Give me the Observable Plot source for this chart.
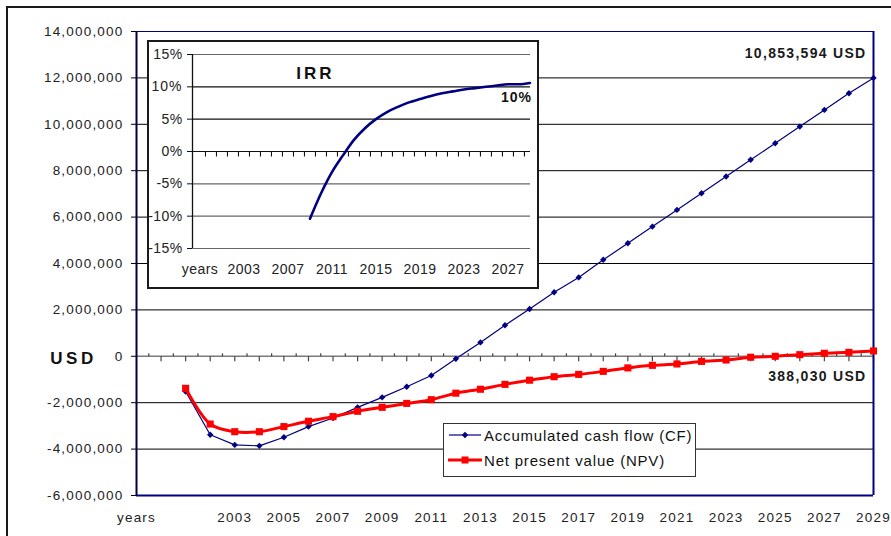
<!DOCTYPE html>
<html>
<head>
<meta charset="utf-8">
<script src="https://cdn.jsdelivr.net/npm/d3@7"></script>
<script src="https://cdn.jsdelivr.net/npm/@observablehq/plot@0.6"></script>
<style>
  html, body { margin: 0; padding: 0; overflow: hidden; background: #fff; }
  #chart { position: relative; width: 891px; height: 536px; overflow: hidden;
           font-family: "Liberation Sans", Arial, sans-serif; color: #222; }
  #border { position: absolute; left: 6px; top: 6px; width: 900px; height: 545px;
            border: 2px solid #1a1a1a; box-sizing: border-box; }
  #main { position: absolute; left: 0; top: 0; }
  #inset { position: absolute; left: 147px; top: 40px; width: 392px; height: 249px;
           border: 2px solid #1a1a1a; box-sizing: border-box; background: #fff; }
  #inset svg { position: absolute; left: 0; top: 0; }
  #legend { position: absolute; left: 443px; top: 423px; width: 253px; height: 54px;
            border: 1.5px solid #333; box-sizing: border-box; background: #fff; }
  #legend .row { position: absolute; left: 4px; height: 16px; display: flex; align-items: center; }
  #legend .row span { font-size: 15px; letter-spacing: 0.8px; margin-left: 2px; color: #111; white-space: nowrap; }
</style>
</head>
<body>
<div id="chart">
  <div id="border"></div>
  <div id="main"></div>
  <div id="inset"></div>
  <div id="legend"></div>
</div>
<script>
// ---------- data ----------
const years = [2001, 2002, 2003, 2004, 2005, 2006, 2007, 2008, 2009, 2010,
               2011, 2012, 2013, 2014, 2015, 2016, 2017, 2018, 2019, 2020,
               2021, 2022, 2023, 2024, 2025, 2026, 2027, 2028, 2029];
const cashFlow = [-1520000, -3380000, -3820000, -3860000, -3490000, -3030000, -2660000, -2200000, -1770000, -1310000,
                  -830000, -110000, 600000, 1340000, 2040000, 2760000, 3400000, 4160000, 4870000, 5590000,
                  6310000, 7030000, 7750000, 8470000, 9180000, 9900000, 10620000, 11340000, 12000000];
const npv = [-1380000, -2920000, -3250000, -3250000, -3030000, -2800000, -2600000, -2370000, -2200000, -2030000,
             -1870000, -1590000, -1420000, -1210000, -1030000, -880000, -780000, -650000, -500000, -390000,
             -330000, -220000, -160000, -40000, 0, 70000, 130000, 170000, 230000];
const irrYears = [2009, 2010, 2011, 2012, 2013, 2014, 2015, 2016, 2017, 2018, 2019,
                  2020, 2021, 2022, 2023, 2024, 2025, 2026, 2027, 2028, 2029];
const irr = [-10.4, -6.5, -3.2, -0.6, 1.8, 3.6, 5.0, 6.1, 6.9, 7.6, 8.1,
             8.6, 9.0, 9.3, 9.6, 9.8, 10.0, 10.2, 10.4, 10.4, 10.6];

const yTicks = [-6000000, -4000000, -2000000, 0, 2000000, 4000000, 6000000, 8000000, 10000000, 12000000, 14000000];
const xLabelYears = [1999, 2003, 2005, 2007, 2009, 2011, 2013, 2015, 2017, 2019, 2021, 2023, 2025, 2027, 2029];
const insetLabelYears = [1999, 2003, 2007, 2011, 2015, 2019, 2023, 2027];
const irrTicks = [-15, -10, -5, 0, 5, 10, 15];
const firstCategoryLabel = "years";
const cfEndLabel = "10,853,594 USD";
const npvEndLabel = "388,030 USD";
const unitLabel = "USD";
const irrTitle = "IRR";
const irrEndLabel = "10%";
const seriesNames = ["Accumulated cash flow (CF)", "Net present value (NPV)"];

// ---------- helpers ----------
const navy = "#000080";
const red = "#ff0000";
const cfData = years.map((x, i) => ({x, y: cashFlow[i]}));
const npvData = years.map((x, i) => ({x, y: npv[i]}));
const irrData = irrYears.map((x, i) => ({x, y: irr[i]}));
const catLabel = d => d === 1999 ? firstCategoryLabel : String(d);
const majorTicks = d3.range(2000, 2030);
const minorTicks = d3.range(1999.5, 2029, 1);
const insetTicks = d3.range(1999.5, 2029, 1);

const tickDown = {draw(ctx) { ctx.moveTo(0, 0); ctx.lineTo(0, 5); }};
const tickUp = {draw(ctx) { ctx.moveTo(0, 0); ctx.lineTo(0, -3); }};
const diamond = {draw(ctx) { ctx.moveTo(0, -3.2); ctx.lineTo(3.2, 0); ctx.lineTo(0, 3.2); ctx.lineTo(-3.2, 0); ctx.closePath(); }};

// ---------- main chart ----------
const main = Plot.plot({
  width: 891, height: 536,
  marginLeft: 136, marginRight: 18, marginTop: 31, marginBottom: 41,
  x: {domain: [1999, 2029]},
  y: {domain: [-6000000, 14000000]},
  style: {fontFamily: "Liberation Sans, Arial, sans-serif", fontSize: "13.5px",
          letterSpacing: "1.2px", color: "#222", background: "transparent", overflow: "visible"},
  marks: [
    Plot.ruleY(yTicks.filter(d => d !== 0 && d !== 14000000 && d !== -6000000), {stroke: "#000", strokeWidth: 1}),
    Plot.ruleY([0], {stroke: "#7a7a7a", strokeWidth: 1.5}),
    Plot.dot(majorTicks, {x: d => d, y: () => 0, symbol: tickDown, stroke: "#444", fill: "none", strokeWidth: 1.2}),
    Plot.dot(minorTicks, {x: d => d, y: () => 0, symbol: tickUp, stroke: "#444", fill: "none", strokeWidth: 1.2}),
    Plot.ruleY([14000000], {stroke: navy, strokeWidth: 1.2}),
    Plot.ruleY([-6000000], {stroke: navy, strokeWidth: 2}),
    Plot.ruleX([2029], {stroke: navy, strokeWidth: 2}),
    Plot.ruleX([1999], {stroke: "#000040", strokeWidth: 2}),
    Plot.axisY(yTicks, {anchor: "left", tickSize: 5, tickPadding: 8, stroke: "#000",
                        tickFormat: d => d.toLocaleString("en-US"), label: null}),
    Plot.axisX(xLabelYears, {anchor: "bottom", tickSize: 0, tickPadding: 17,
                             tickFormat: catLabel, label: null}),
    Plot.line(cfData, {x: "x", y: "y", stroke: navy, strokeWidth: 1.2}),
    Plot.dot(cfData, {x: "x", y: "y", symbol: diamond, fill: navy, stroke: "none"}),
    Plot.line(npvData, {x: "x", y: "y", stroke: red, strokeWidth: 3, curve: "catmull-rom"}),
    Plot.dot(npvData, {x: "x", y: "y", symbol: "square", r: 4, fill: red, stroke: "none"}),
    Plot.text([cfEndLabel], {frameAnchor: "top-right", dx: -7, dy: 17, textAnchor: "end",
                             fontWeight: "bold", fontSize: 14, fill: "#1a1a1a"}),
    Plot.text([npvData[npvData.length - 1]], {x: "x", y: "y", text: () => npvEndLabel, dx: -7, dy: 25.5,
                             textAnchor: "end", fontWeight: "bold", fontSize: 14, fill: "#1a1a1a"}),
    Plot.text([unitLabel], {frameAnchor: "left", y: () => 0, dx: -63, dy: 2, textAnchor: "middle",
                            fontWeight: "bold", fontSize: 17, fill: "#111"})
  ]
});
document.getElementById("main").appendChild(main);

// ---------- inset IRR chart ----------
const inset = Plot.plot({
  width: 388, height: 245,
  marginLeft: 43, marginRight: 7, marginTop: 12, marginBottom: 39,
  x: {domain: [1998.32, 2029.05]},
  y: {domain: [-15, 15]},
  style: {fontFamily: "Liberation Sans, Arial, sans-serif", fontSize: "14px",
          letterSpacing: "0.4px", color: "#222", background: "transparent", overflow: "visible"},
  marks: [
    Plot.ruleY(irrTicks.filter(d => d !== 0), {stroke: d => (d === 10 || d === 5) ? "#111" : "#666", strokeWidth: 1.2}),
    Plot.ruleY([0], {stroke: "#111", strokeWidth: 1.2}),
    Plot.dot(insetTicks, {x: d => d, y: () => 0, symbol: tickDown, stroke: "#111", fill: "none", strokeWidth: 1.1}),
    Plot.ruleX([1998.32], {stroke: "#111", strokeWidth: 1.3}),
    Plot.axisY(irrTicks, {anchor: "left", tickSize: 5, tickPadding: 5, stroke: "#111",
                          tickFormat: d => d + "%", label: null}),
    Plot.axisX(insetLabelYears, {anchor: "bottom", tickSize: 0, tickPadding: 16,
                                 tickFormat: catLabel, label: null}),
    Plot.line(irrData, {x: "x", y: "y", stroke: navy, strokeWidth: 2.6, curve: "monotone-x"}),
    Plot.text([irrTitle], {frameAnchor: "top-left", dx: 123, dy: 12, textAnchor: "middle",
                           fontWeight: "bold", fontSize: 17, fill: "#111"}),
    Plot.text([irrData[irrData.length - 1]], {x: "x", y: "y", text: () => irrEndLabel, dx: 2, dy: 15,
                           textAnchor: "end", fontWeight: "bold", fontSize: 14, fill: "#111"})
  ]
});
document.getElementById("inset").appendChild(inset);

// per-label letter spacing
for (const t of main.querySelectorAll("text")) {
  if (t.textContent === unitLabel) t.style.letterSpacing = "3.5px";
  if (t.textContent === cfEndLabel || t.textContent === npvEndLabel) t.style.letterSpacing = "1.3px";
}
for (const t of inset.querySelectorAll("text")) {
  if (t.textContent === irrTitle) t.style.letterSpacing = "3px";
  if (t.textContent === irrEndLabel) t.style.letterSpacing = "1px";
}

// ---------- legend ----------
const legend = document.getElementById("legend");
const samples = [
  `<svg width="34" height="16"><line x1="1" y1="8" x2="33" y2="8" stroke="${navy}" stroke-width="1.2"/>` +
  `<path d="M17,4.8L20.2,8L17,11.2L13.8,8Z" fill="${navy}"/></svg>`,
  `<svg width="34" height="16"><line x1="0" y1="8" x2="34" y2="8" stroke="${red}" stroke-width="3"/>` +
  `<rect x="13.5" y="4.5" width="7" height="7" fill="${red}"/></svg>`
];
seriesNames.forEach((name, i) => {
  const row = document.createElement("div");
  row.className = "row";
  row.style.top = (i === 0 ? 3 : 28) + "px";
  row.innerHTML = samples[i] + `<span>${name}</span>`;
  legend.appendChild(row);
});
</script>
</body>
</html>
